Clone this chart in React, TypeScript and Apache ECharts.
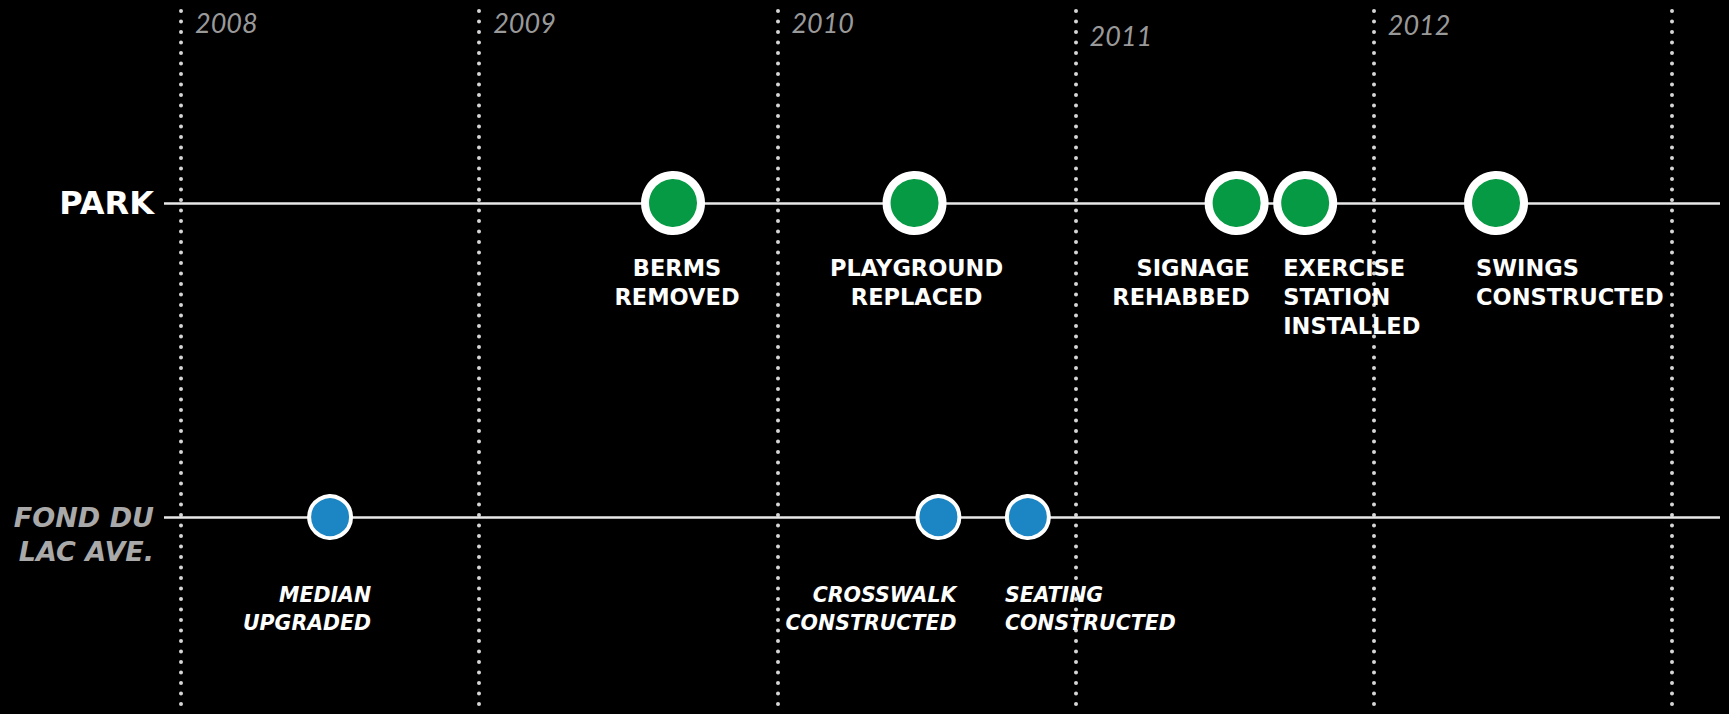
import React, { useEffect, useRef } from "react";
import * as echarts from "echarts";

// ---------- data ----------
const yearTicks = [2008, 2009, 2010, 2011, 2012, 2013];
const yearLabels = ["2008", "2009", "2010", "2011", "2012"];

const rowNames = ["FOND DU LAC AVE.", "PARK"]; // y = 0, 1

const parkEvents = [
  "BERMS\nREMOVED",
  "PLAYGROUND\nREPLACED",
  "SIGNAGE\nREHABBED",
  "EXERCISE\nSTATION\nINSTALLED",
  "SWINGS\nCONSTRUCTED",
];
const parkDates = [2009.65, 2010.46, 2011.54, 2011.77, 2012.41];

const streetEvents = ["MEDIAN\nUPGRADED", "CROSSWALK\nCONSTRUCTED", "SEATING\nCONSTRUCTED"];
const streetDates = [2008.5, 2010.54, 2010.84];

// ---------- layout / style ----------
const X_MIN = 2007.943;
const X_MAX = 2013.161;
const Y_MIN = -0.627;
const Y_MAX = 1.6465;
const Y_DOT_TOP = 1.6115;
const Y_YEAR = 1.5764;

const parkLabelAnchor: [string, number][] = [
  ["center", 4],
  ["center", 2],
  ["right", 13],
  ["left", -22],
  ["left", -20],
];
const streetLabelAnchor: [string, number][] = [
  ["right", 41],
  ["right", 18],
  ["left", -23],
];
const yearLabelDrop = [0, 0, 0, 13, 2];

export default function App() {
  const ref = useRef<HTMLDivElement>(null);

  useEffect(() => {
    document.body.style.margin = "0";
    document.body.style.background = "#000";
    if (!ref.current) return;
    const chart = echarts.init(ref.current, undefined, { renderer: "svg" });

    const option: any = {
      animation: false,
      backgroundColor: "#000",
      grid: { left: 164, right: 9, top: 0, bottom: 0, containLabel: false },
      xAxis: {
        type: "value",
        min: X_MIN,
        max: X_MAX,
        show: false,
        splitLine: { show: false },
      },
      yAxis: {
        type: "value",
        min: Y_MIN,
        max: Y_MAX,
        axisLine: { show: false },
        axisTick: { show: false },
        splitLine: { show: false },
        axisLabel: {
          show: true,
          customValues: [0, 1],
          margin: 10,
          formatter: (v: number) =>
            v === 1
              ? `{park|${rowNames[1]}}`
              : `{gap| }\n{fond|FOND DU}\n{fond|LAC AVE.}`,
          rich: {
            park: {
              fontFamily: "DejaVu Sans",
              fontWeight: "bold",
              fontSize: 32,
              color: "#ffffff",
            },
            fond: {
              fontFamily: "DejaVu Sans",
              fontWeight: "bold",
              fontStyle: "italic",
              fontSize: 27,
              lineHeight: 34,
              color: "#a9a9a9",
              align: "right",
            },
            gap: { fontSize: 27, lineHeight: 34 },
          },
        },
      },
      series: [
        {
          name: "years",
          type: "scatter",
          symbolSize: 0,
          silent: true,
          z: 1,
          data: yearLabels.map((y, i) => ({
            value: [yearTicks[i], Y_YEAR],
            name: y,
            label: { offset: [0, yearLabelDrop[i]] },
          })),
          label: {
            show: true,
            position: "right",
            distance: 14,
            formatter: (p: any) => p.name,
            fontFamily: "Lato",
            fontStyle: "italic",
            fontWeight: "normal",
            fontSize: 27,
            color: "#c4c4c4",
          },
          markLine: {
            silent: true,
            symbol: ["none", "none"],
            label: { show: false },
            lineStyle: {
              color: "#d6d6d6",
              width: 4,
              type: [0.1, 10.4],
              cap: "round",
            },
            data: yearTicks.map((y) => [
              { coord: [y, Y_DOT_TOP] },
              { coord: [y, Y_MIN] },
            ]),
          },
        },
        {
          name: "rows",
          type: "line",
          data: [],
          z: 2,
          markLine: {
            silent: true,
            symbol: ["none", "none"],
            label: { show: false },
            lineStyle: { color: "#e8e8e8", width: 2.5, type: "solid" },
            data: [{ yAxis: 1 }, { yAxis: 0 }],
          },
        },
        {
          name: "park",
          type: "scatter",
          z: 5,
          symbolSize: 56,
          itemStyle: { color: "#079a44", borderColor: "#ffffff", borderWidth: 8, opacity: 1 },
          data: parkDates.map((d, i) => ({
            value: [d, 1],
            name: parkEvents[i],
            label: { align: parkLabelAnchor[i][0], offset: [parkLabelAnchor[i][1], 0] },
          })),
          label: {
            show: true,
            position: "bottom",
            distance: 18.5,
            formatter: (p: any) => p.name,
            fontFamily: "DejaVu Sans",
            fontWeight: "bold",
            fontSize: 22.5,
            lineHeight: 29,
            color: "#ffffff",
          },
        },
        {
          name: "street",
          type: "scatter",
          z: 5,
          symbolSize: 42,
          itemStyle: { color: "#1b86c3", borderColor: "#ffffff", borderWidth: 4, opacity: 1 },
          data: streetDates.map((d, i) => ({
            value: [d, 0],
            name: streetEvents[i],
            label: { align: streetLabelAnchor[i][0], offset: [streetLabelAnchor[i][1], 0] },
          })),
          label: {
            show: true,
            position: "bottom",
            distance: 41,
            formatter: (p: any) => p.name,
            fontFamily: "DejaVu Sans",
            fontWeight: "bold",
            fontStyle: "italic",
            fontSize: 20.5,
            lineHeight: 28,
            color: "#ffffff",
          },
        },
      ],
    };

    chart.setOption(option);
    return () => chart.dispose();
  }, []);

  return <div ref={ref} style={{ width: 1729, height: 714, background: "#000" }} />;
}
